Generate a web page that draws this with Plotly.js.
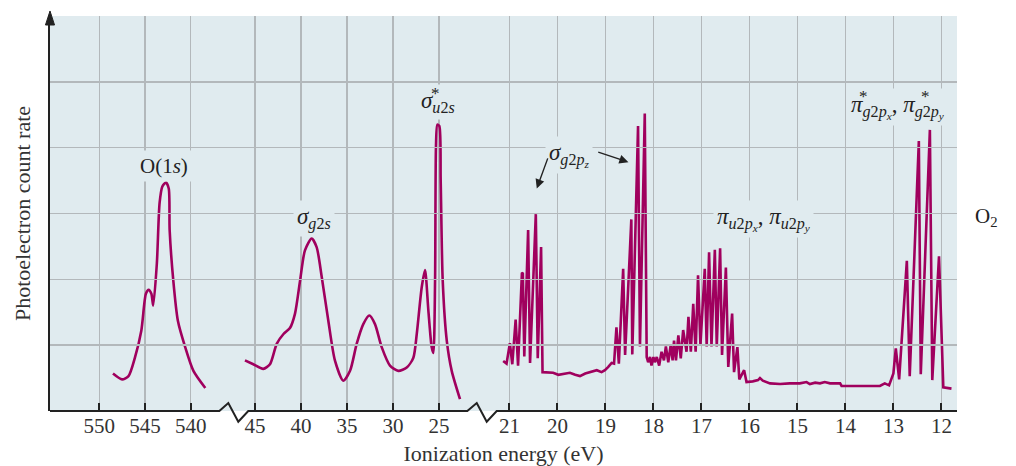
<!DOCTYPE html>
<html><head><meta charset="utf-8">
<script src="https://cdn.plot.ly/plotly-3.0.1.min.js"></script>
<style>html,body{margin:0;padding:0;background:#fff}</style>
</head><body><div id="chart" style="width:1016px;height:466px"></div>
<script>
// ---- data (ionization energy in eV, photoelectron count rate in grid units) ----
const coreEnergy = [548.5, 547.5, 546.8, 546.1, 545.4, 544.9, 544.6, 544.3, 544.1, 543.7, 543.4, 543.1, 542.7, 542.4, 542.3, 541.9, 541.4, 540.6, 539.7, 538.4];
const coreCount  = [0.57, 0.48, 0.53, 0.81, 1.22, 1.78, 1.84, 1.78, 1.60, 2.24, 3.16, 3.41, 3.47, 3.38, 2.75, 1.98, 1.37, 0.97, 0.61, 0.35];

const innerEnergy = [46.09, 45.18, 44.1, 43.37, 42.64, 41.9, 41.2, 40.65, 40.1, 39.57, 38.84, 38.3, 37.75, 37.03, 36.3, 35.4, 34.67, 33.95, 33.23, 32.57, 31.96, 31.23, 30.33, 29.42, 28.51, 27.79, 27.42, 26.88, 26.52, 26.16, 25.8, 25.62, 25.43, 25.33, 25.18, 24.97, 24.82, 24.6, 24.16, 23.62, 22.72];
const innerCount  = [0.77, 0.71, 0.64, 0.71, 1.02, 1.17, 1.26, 1.48, 1.98, 2.44, 2.62, 2.49, 2.04, 1.37, 0.76, 0.46, 0.61, 1.02, 1.32, 1.45, 1.32, 0.97, 0.69, 0.61, 0.66, 0.81, 1.17, 1.88, 2.14, 1.53, 0.97, 0.88, 1.98, 4.02, 4.35, 4.33, 3.51, 1.98, 1.07, 0.61, 0.18];

const valenceEnergy = [21.13, 21.06, 20.99, 20.94, 20.87, 20.82, 20.74, 20.72, 20.69, 20.61, 20.57, 20.45, 20.41, 20.34, 20.31, 20.19, 20.09, 19.98, 19.84, 19.74, 19.63, 19.53, 19.42, 19.32, 19.18, 19.08, 19.01, 18.94, 18.87, 18.82,
  18.77, 18.72, 18.63, 18.59, 18.46, 18.44, 18.32, 18.28, 18.18, 18.14, 18.11, 18.07, 18.04, 18.00, 17.97, 17.93, 17.88, 17.83, 17.78, 17.74, 17.69, 17.64, 17.60, 17.57, 17.53, 17.48, 17.43, 17.38, 17.31, 17.27,
  17.22, 17.17, 17.12, 17.07, 17.02, 16.93, 16.89, 16.84, 16.79, 16.72, 16.68, 16.61, 16.57, 16.49, 16.44, 16.36, 16.32, 16.25, 16.21, 16.11, 16.06, 15.93, 15.82, 15.78, 15.72, 15.57, 15.36, 15.16, 14.95, 14.81,
  14.74, 14.63, 14.53, 14.43, 14.32, 14.11, 14.08, 13.90, 13.70, 13.28, 13.18, 13.09, 13.00, 12.95, 12.88, 12.72, 12.66, 12.47, 12.43, 12.24, 12.19, 12.05, 11.96, 11.79];
const valenceCount  = [0.76, 0.72, 1.03, 0.71, 1.39, 0.69, 2.09, 2.10, 0.83, 2.75, 0.73, 2.99, 0.80, 2.49, 0.59, 0.59, 0.58, 0.55, 0.57, 0.58, 0.55, 0.53, 0.57, 0.59, 0.62, 0.59, 0.62, 0.67, 0.73, 0.72,
  1.27, 0.72, 2.16, 0.85, 2.91, 0.86, 4.33, 0.98, 4.52, 0.82, 0.74, 0.82, 0.69, 0.82, 0.74, 0.82, 0.69, 0.90, 0.77, 0.98, 0.74, 1.00, 0.77, 1.07, 0.77, 1.15, 0.80, 1.23, 0.90, 1.43,
  0.90, 1.63, 0.90, 2.06, 1.00, 2.16, 0.98, 2.41, 0.98, 2.45, 0.98, 2.47, 0.85, 2.18, 0.67, 1.48, 0.59, 0.97, 0.48, 0.62, 0.44, 0.45, 0.47, 0.50, 0.46, 0.42, 0.41, 0.42, 0.42, 0.44,
  0.41, 0.43, 0.42, 0.44, 0.42, 0.42, 0.38, 0.38, 0.38, 0.38, 0.42, 0.39, 0.57, 0.95, 0.48, 2.28, 0.53, 4.10, 0.56, 4.27, 0.47, 2.35, 0.36, 0.34];

const coreTicks = [550, 545, 540];
const innerTicks = [45, 40, 35, 30, 25];
const valenceTicks = [21, 20, 19, 18, 17, 16, 15, 14, 13, 12];

// ---- styling ----
const LINE = '#a0005e';
const BG = '#e0ebef';
const GRID = '#b3b8bb';
const INK = '#222';
const FONT = 'Liberation Serif, Times New Roman, serif';

// plot-area pixel frame, used only for decorations (axis break, arrow, asterisks)
const L = 50, R = 957, T = 16, B = 411;
const fx = p => (p - L) / (R - L);
const fy = p => (B - p) / (B - T);
const path = pts => pts.map((p, i) => (i ? 'L' : 'M') + fx(p[0]).toFixed(4) + ',' + fy(p[1]).toFixed(4)).join(' ');

const lineStyle = {color: LINE, width: 2.6};
const traces = [
  {x: coreEnergy, y: coreCount, xaxis: 'x', yaxis: 'y', mode: 'lines', line: Object.assign({shape: 'spline', smoothing: 0.7}, lineStyle), hoverinfo: 'x+y'},
  {x: innerEnergy, y: innerCount, xaxis: 'x2', yaxis: 'y', mode: 'lines', line: Object.assign({shape: 'spline', smoothing: 0.7}, lineStyle), hoverinfo: 'x+y'},
  {x: valenceEnergy, y: valenceCount, xaxis: 'x3', yaxis: 'y', mode: 'lines', line: Object.assign({shape: 'linear'}, lineStyle), hoverinfo: 'x+y'},
  {x: [], y: [], xaxis: 'x4', yaxis: 'y', mode: 'lines', hoverinfo: 'skip'}
];

const b1 = fx(234), b2 = fx(482);
const xBase = {
  showgrid: true, gridcolor: GRID, gridwidth: 1.4, zeroline: false, showline: false,
  ticks: 'inside', ticklen: 8, tickwidth: 2, tickcolor: INK, anchor: 'y',
  tickfont: {family: FONT, size: 21, color: '#333'}, fixedrange: true
};
const tickFmt = v => ({tickmode: 'array', tickvals: v, ticktext: v.map(String)});

const greekFont = {family: FONT, size: 23, color: INK};
const lbl = (o) => Object.assign({showarrow: false, font: greekFont, bgcolor: BG, borderpad: 3}, o);
const star = (px, py) => ({xref: 'paper', yref: 'paper', x: fx(px), y: fy(py), showarrow: false, text: '*',
  font: {family: FONT, size: 17, color: INK}});

const layout = {
  width: 1016, height: 466,
  margin: {l: L, r: 1016 - R, t: T, b: 466 - B},
  paper_bgcolor: '#ffffff', plot_bgcolor: 'rgba(0,0,0,0)',
  showlegend: false,
  font: {family: FONT, color: INK},
  xaxis: Object.assign({}, xBase, tickFmt(coreTicks), {domain: [0, b1], range: [555.39, 535.26]}),
  xaxis2: Object.assign({}, xBase, tickFmt(innerTicks), {domain: [b1, b2], range: [47.28, 20.33]}),
  xaxis3: Object.assign({}, xBase, tickFmt(valenceTicks), {domain: [b2, 1], range: [21.571, 11.675]}),
  xaxis4: {domain: [0, 1], range: [0, 1], anchor: 'y', showgrid: false, zeroline: false, showline: false,
    showticklabels: false, ticks: '', fixedrange: true,
    title: {text: 'Ionization energy (eV)', font: {family: FONT, size: 22, color: '#333'}, standoff: 35}},
  yaxis: {domain: [0, 1], range: [0, 6], tickmode: 'array', tickvals: [1, 2, 3, 4, 5], showticklabels: false, ticks: '',
    showgrid: true, gridcolor: GRID, gridwidth: 1.4, zeroline: false,
    showline: true, linecolor: INK, linewidth: 2, fixedrange: true,
    title: {text: 'Photoelectron count rate', font: {family: FONT, size: 22, color: '#333'}, standoff: 11}},
  shapes: [
    {type: 'rect', xref: 'paper', yref: 'paper', x0: 0, x1: 1, y0: 0, y1: 1, fillcolor: BG, line: {width: 0}, layer: 'below'},
    {type: 'path', xref: 'paper', yref: 'paper', line: {color: INK, width: 2},
      path: path([[50, 411], [219.3, 411], [228.3, 403], [238.3, 421.7], [248.3, 411], [467.3, 411], [476.7, 403], [486.7, 421.7], [496.7, 411], [957, 411]])},
    {type: 'path', xref: 'paper', yref: 'paper', fillcolor: INK, line: {color: INK, width: 1},
      path: path([[45.5, 25], [50, 11], [54.5, 25]]) + ' Z'}
  ],
  annotations: [
    lbl({xref: 'x', yref: 'y', x: 542.87, y: 3.72, text: 'O(1<i>s</i>)', font: {family: FONT, size: 21, color: INK}}),
    lbl({xref: 'x2', yref: 'y', x: 38.59, y: 2.93, text: '<i>σ</i><sub><i>g</i>2<i>s</i></sub>'}),
    lbl({xref: 'x2', yref: 'y', x: 25.16, y: 4.70, text: '<i>σ</i><sub><i>u</i>2<i>s</i></sub>'}),
    star(435, 82),
    lbl({xref: 'x3', yref: 'y', x: 19.76, y: 3.89, text: '<i>σ</i><sub><i>g</i>2<i>p<sub>z</sub></i></sub>'}),
    {xref: 'x3', yref: 'y', axref: 'x3', ayref: 'y', x: 20.43, y: 3.38, ax: 20.19, ay: 3.86, text: '', showarrow: true,
      arrowhead: 2, arrowsize: 1.3, arrowwidth: 1.4, arrowcolor: INK, standoff: 0, startstandoff: 0},
    {xref: 'x3', yref: 'y', axref: 'x3', ayref: 'y', x: 18.52, y: 3.78, ax: 19.18, ay: 3.94, text: '', showarrow: true,
      arrowhead: 2, arrowsize: 1.3, arrowwidth: 1.4, arrowcolor: INK, standoff: 0, startstandoff: 0},
    lbl({xref: 'x3', yref: 'y', x: 15.70, y: 2.92, text: '<i>π</i><sub><i>u</i>2<i>p<sub>x</sub></i></sub>, <i>π</i><sub><i>u</i>2<i>p<sub>y</sub></i></sub>'}),
    lbl({xref: 'x3', yref: 'y', x: 12.91, y: 4.62, text: '<i>π</i><sub><i>g</i>2<i>p<sub>x</sub></i></sub>, <i>π</i><sub><i>g</i>2<i>p<sub>y</sub></i></sub>'}),
    star(870, 85),
    star(932, 85),
    {xref: 'paper', yref: 'paper', x: fx(1000), y: fy(217), text: 'O<sub>2</sub>', showarrow: false,
      font: {family: FONT, size: 21, color: INK}}
  ]
};

Plotly.newPlot('chart', traces, layout, {staticPlot: true, displayModeBar: false});
</script></body></html>
